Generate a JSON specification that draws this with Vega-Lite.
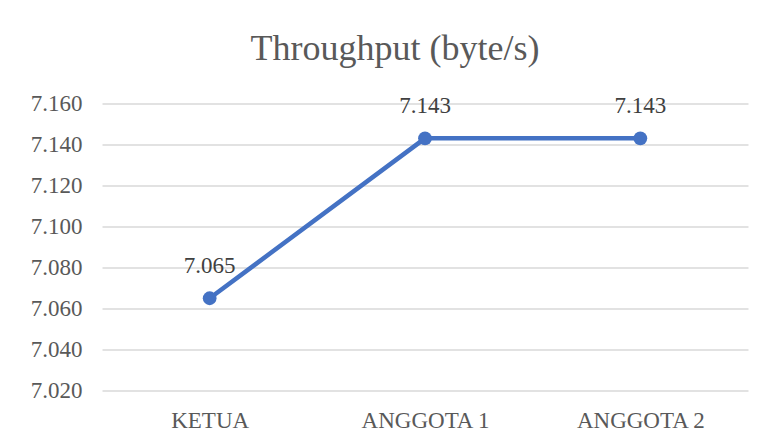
{
  "$schema": "https://vega.github.io/schema/vega-lite/v6.json",
  "autosize": {"type": "none"},
  "width": 646,
  "height": 287,
  "padding": {"left": 102, "top": 103.5, "right": 15, "bottom": 53.5},
  "background": "white",
  "title": {
    "text": "Throughput (byte/s)",
    "font": "Liberation Serif",
    "fontSize": 36,
    "fontWeight": "normal",
    "color": "#595959",
    "anchor": "middle",
    "baseline": "alphabetic",
    "dx": -30,
    "offset": -3.5
  },
  "config": {"view": {"stroke": null}},
  "data": {
    "values": [
      {"role": "KETUA", "throughput": 7.065},
      {"role": "ANGGOTA 1", "throughput": 7.143},
      {"role": "ANGGOTA 2", "throughput": 7.143}
    ]
  },
  "encoding": {
    "x": {
      "field": "role",
      "type": "nominal",
      "sort": null,
      "scale": {"paddingInner": 0, "paddingOuter": 0},
      "axis": {
        "title": null,
        "labelAngle": 0,
        "labelFont": "Liberation Serif",
        "labelFontSize": 23,
        "labelColor": "#595959",
        "labelPadding": 19,
        "ticks": false,
        "domain": false,
        "grid": false
      }
    },
    "y": {
      "field": "throughput",
      "type": "quantitative",
      "scale": {"domain": [7.02, 7.16], "zero": false, "nice": false},
      "axis": {
        "title": null,
        "values": [7.02, 7.04, 7.06, 7.08, 7.1, 7.12, 7.14, 7.16],
        "format": ".3f",
        "labelFont": "Liberation Serif",
        "labelFontSize": 23,
        "labelColor": "#595959",
        "labelPadding": 20,
        "ticks": false,
        "domain": false,
        "grid": true,
        "gridColor": "#d9d9d9",
        "gridWidth": 1.5
      }
    }
  },
  "layer": [
    {
      "mark": {"type": "line", "color": "#4472C4", "strokeWidth": 4.5},
      "encoding": {}
    },
    {
      "mark": {"type": "point", "filled": true, "color": "#4472C4", "size": 190, "opacity": 1},
      "encoding": {}
    },
    {
      "mark": {
        "type": "text",
        "font": "Liberation Serif",
        "fontSize": 23,
        "color": "#404040",
        "baseline": "alphabetic",
        "dy": -25
      },
      "encoding": {
        "text": {"field": "throughput", "type": "quantitative", "format": ".3f"}
      }
    }
  ]
}
